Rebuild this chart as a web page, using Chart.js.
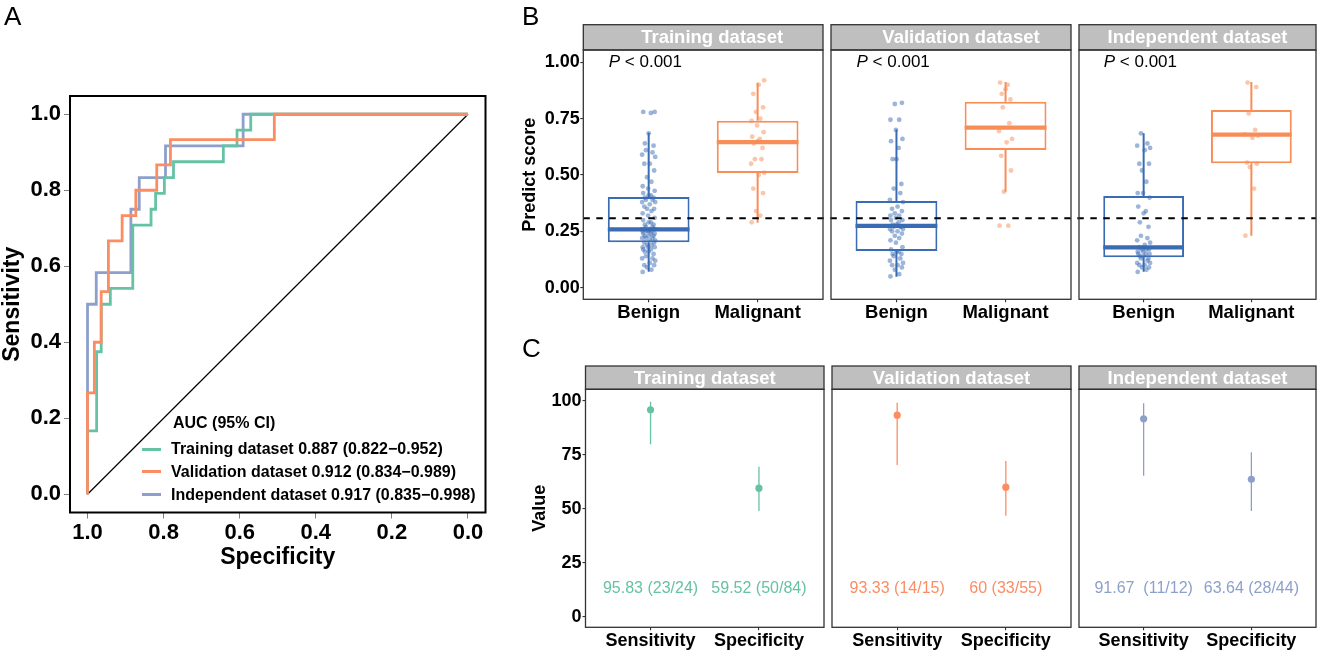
<!DOCTYPE html>
<html>
<head>
<meta charset="utf-8">
<title>ROC, predict score and sensitivity/specificity</title>
<script src="https://cdn.jsdelivr.net/npm/chart.js@4.4.1/dist/chart.umd.min.js"></script>
<style>
  html, body { margin:0; padding:0; background:#ffffff; }
  body { position:relative; width:1320px; height:654px; overflow:hidden; font-family:'Liberation Sans', Arial, sans-serif; }
  canvas { position:absolute; }
  .letter { position:absolute; font-size:26px; line-height:1; color:#000; }
  .leg { position:absolute; font-size:16px; font-weight:bold; line-height:1; white-space:nowrap; color:#000; }
  .sw { position:absolute; width:19px; height:3px; }
</style>
</head>
<body>
<canvas id="cA" width="500" height="590" style="left:0px;top:0px"></canvas>
<canvas id="cB1" width="307" height="330" style="left:520px;top:0px"></canvas>
<canvas id="cB2" width="248" height="330" style="left:827px;top:0px"></canvas>
<canvas id="cB3" width="245" height="330" style="left:1075px;top:0px"></canvas>
<canvas id="cC1" width="308" height="324" style="left:520px;top:330px"></canvas>
<canvas id="cC2" width="247" height="324" style="left:828px;top:330px"></canvas>
<canvas id="cC3" width="245" height="324" style="left:1075px;top:330px"></canvas>
<div class="letter" style="left:4px;top:3px">A</div>
<div class="letter" style="left:522px;top:3px">B</div>
<div class="letter" style="left:522px;top:335px">C</div>
<div id="legend"></div>
<script>
// ================= DATA =================
// ---- Panel A: ROC curves (specificity, sensitivity at each threshold) ----
const rocTickValues = [0, 0.2, 0.4, 0.6, 0.8, 1.0];
const rocTickLabels = ['0.0', '0.2', '0.4', '0.6', '0.8', '1.0'];
const rocSpecTrain = [1, 1, 0.976, 0.964, 0.940, 0.881, 0.833, 0.821, 0.798, 0.774, 0.643, 0.607, 0.571, 0];
const rocSensTrain = [0, 0.167, 0.375, 0.500, 0.542, 0.708, 0.750, 0.792, 0.833, 0.875, 0.917, 0.958, 1, 1];
const rocSpecVal = [1, 1, 0.982, 0.964, 0.945, 0.909, 0.873, 0.818, 0.782, 0.509, 0];
const rocSensVal = [0, 0.267, 0.400, 0.533, 0.667, 0.733, 0.800, 0.867, 0.933, 1, 1];
const rocSpecInd = [1, 1, 0.977, 0.886, 0.864, 0.795, 0.591, 0];
const rocSensInd = [0, 0.500, 0.583, 0.750, 0.833, 0.917, 1, 1];
const refSpec = [1, 0];
const refSens = [0, 1];
const rocLegendTitle = 'AUC (95% CI)';
const rocLegendLabels = [
  'Training dataset 0.887 (0.822\u22120.952)',
  'Validation dataset 0.912 (0.834\u22120.989)',
  'Independent dataset 0.917 (0.835\u22120.998)'
];

// ---- Panel B: predict score box plots ----
const facetNames = ['Training dataset', 'Validation dataset', 'Independent dataset'];
const boxGroups = ['Benign', 'Malignant'];
const scoreTickValues = [0, 0.25, 0.5, 0.75, 1];
const scoreTickLabels = ['0.00', '0.25', '0.50', '0.75', '1.00'];
const cutoffScore = 0.308;
const pValueText = ['P', ' < 0.001'];
// [lower whisker, Q1, median, Q3, upper whisker]
const boxTrainBenign = [0.071, 0.202, 0.259, 0.402, 0.687];
const boxTrainMalig  = [0.288, 0.509, 0.646, 0.741, 0.909];
const boxValBenign   = [0.049, 0.163, 0.274, 0.385, 0.702];
const boxValMalig    = [0.426, 0.611, 0.710, 0.825, 0.913];
const boxIndBenign   = [0.071, 0.135, 0.179, 0.407, 0.685];
const boxIndMalig    = [0.231, 0.552, 0.679, 0.788, 0.913];
const ptsTrainBenign = [0.07,0.08,0.09,0.10,0.10,0.11,0.12,0.13,0.13,0.14,0.15,0.16,0.16,0.17,0.17,0.18,0.18,0.18,0.19,0.19,0.20,
  0.20,0.21,0.21,0.22,0.22,0.22,0.23,0.23,0.23,0.24,0.24,0.24,0.25,0.25,0.25,0.25,0.26,0.26,0.26,0.26,0.26,
  0.27,0.27,0.28,0.28,0.29,0.29,0.30,0.31,0.32,0.33,0.34,0.35,0.35,0.36,0.37,0.38,0.38,0.39,0.39,0.40,0.40,
  0.41,0.41,0.42,0.43,0.44,0.45,0.47,0.49,0.52,0.55,0.55,0.58,0.59,0.60,0.61,0.63,0.64,0.685,0.775,0.78,0.78];
const ptsTrainMalig = [0.29,0.32,0.34,0.42,0.44,0.50,0.51,0.55,0.57,0.57,0.62,0.64,0.65,0.66,0.67,0.69,0.72,0.74,0.75,0.78,0.80,0.86,0.90,0.92];
const ptsValBenign = [0.05,0.06,0.08,0.09,0.10,0.10,0.11,0.12,0.13,0.14,0.15,0.15,0.16,0.16,
  0.17,0.18,0.20,0.21,0.22,0.23,0.24,0.25,0.25,0.26,0.26,0.27,0.27,0.27,
  0.28,0.28,0.29,0.30,0.30,0.31,0.32,0.32,0.33,0.34,0.35,0.36,0.38,
  0.39,0.42,0.44,0.46,0.57,0.57,0.62,0.65,0.66,0.70,0.745,0.745,0.815,0.82];
const ptsValMalig = [0.275,0.275,0.426,0.52,0.585,0.645,0.66,0.695,0.73,0.80,0.835,0.86,0.88,0.90,0.91];
const ptsIndBenign = [0.07,0.08,0.09,0.09,0.10,0.10,0.11,0.11,0.12,0.13,0.13,
  0.14,0.14,0.15,0.15,0.15,0.16,0.16,0.17,0.17,0.17,0.18,
  0.19,0.20,0.21,0.22,0.23,0.27,0.29,0.33,0.34,0.36,0.40,
  0.42,0.42,0.47,0.52,0.55,0.55,0.61,0.62,0.63,0.64,0.685];
const ptsIndMalig = [0.231,0.44,0.535,0.55,0.555,0.665,0.675,0.68,0.70,0.773,0.89,0.91];

// ---- Panel C: sensitivity / specificity with 95% CI ----
const metricNames = ['Sensitivity', 'Specificity'];
const valueTickValues = [0, 25, 50, 75, 100];
const valueTickLabels = ['0', '25', '50', '75', '100'];
const estTrain = [95.83, 59.52];
const ciLowTrain = [79.9, 49.0];
const ciHighTrain = [99.5, 69.4];
const txtTrain = ['95.83 (23/24)', '59.52 (50/84)'];
const estVal = [93.33, 60];
const ciLowVal = [70.2, 46.8];
const ciHighVal = [99.1, 72.1];
const txtVal = ['93.33 (14/15)', '60 (33/55)'];
const estInd = [91.67, 63.64];
const ciLowInd = [65.3, 49.0];
const ciHighInd = [98.8, 76.2];
const txtInd = ['91.67  (11/12)', '63.64 (28/44)'];

// ================= STYLE / LAYOUT =================
const FONT = "'Liberation Sans', Arial, Helvetica, sans-serif";
const COL_TRAIN = '#66C2A5', COL_VAL = '#FC8D62', COL_IND = '#8DA0CB';
const COL_BENIGN = '#3A6CB4', COL_MALIG = '#F98D58';
const PTS_BENIGN = 'rgba(58,108,180,0.5)', PTS_MALIG = 'rgba(249,141,88,0.5)';
const jitterOffsets = [-0.055, 0.025, -0.015, 0.05, -0.04, 0.01, 0.06, -0.06, 0.035, -0.025, 0.045, -0.035, 0.0, 0.02, -0.05, 0.055, -0.005];
const layB = [
  { id:'cB1', absLeft:520,  pad:{left:0,   top:50, right:3.5, bottom:0}, yW:63.3, stripDx:9 },
  { id:'cB2', absLeft:827,  pad:{left:3.7, top:50, right:3.5, bottom:0}, stripDx:10 },
  { id:'cB3', absLeft:1075, pad:{left:3.9, top:50, right:1,   bottom:0}, stripDx:0 }
];
const layC = [
  { id:'cC1', pad:{left:0, top:59.3, right:2.3, bottom:0}, yW:65.5 },
  { id:'cC2', pad:{left:4, top:59.3, right:2.5, bottom:0} },
  { id:'cC3', pad:{left:4, top:59.3, right:1,   bottom:0} }
];

// ================= HELPERS =================
const toXY = (xs, ys) => xs.map((x, i) => ({ x: x, y: ys[i] }));
const fixedTicks = (values) => (scale) => { scale.ticks = values.map(v => ({ value: v })); };
const boldFont = (size) => ({ family: FONT, size: size, weight: 'bold', lineHeight: 1.2 });

const decor = {
  id: 'decor',
  afterDatasetsDraw(chart, args, o) {
    const ctx = chart.ctx, ca = chart.chartArea, xs = chart.scales.x, ys = chart.scales.y;
    if (o.cutoff !== undefined && o.cutoff !== null) {
      const y = ys.getPixelForValue(o.cutoff);
      const x0 = o.cutFromArea ? ca.left : 0;
      const x1 = o.cutToArea ? ca.right : chart.width;
      ctx.save();
      ctx.strokeStyle = '#000'; ctx.lineWidth = 2; ctx.setLineDash([6.5, 6.5]);
      ctx.lineDashOffset = (((o.absLeft + x0 - 583.3) % 13) + 13) % 13;
      ctx.beginPath(); ctx.moveTo(x0, y); ctx.lineTo(x1, y); ctx.stroke();
      ctx.restore();
    }
    if (o.pText) {
      ctx.save();
      const fI = 'italic 17px ' + FONT, fR = '17px ' + FONT;
      ctx.font = fI; const w1 = ctx.measureText(o.pText[0]).width;
      ctx.font = fR; const w2 = ctx.measureText(o.pText[1]).width;
      const cx = xs.getPixelForValue(o.pX), cy = ys.getPixelForValue(o.pY);
      let x = cx - (w1 + w2) / 2;
      ctx.fillStyle = '#000'; ctx.textBaseline = 'middle'; ctx.textAlign = 'left';
      ctx.font = fI; ctx.fillText(o.pText[0], x, cy);
      ctx.font = fR; ctx.fillText(o.pText[1], x + w1, cy);
      ctx.restore();
    }
    if (o.labels) {
      ctx.save();
      ctx.font = '16px ' + FONT; ctx.fillStyle = o.labelColor;
      ctx.textAlign = 'center'; ctx.textBaseline = 'middle';
      o.labels.forEach((t, i) => ctx.fillText(t, xs.getPixelForValue(i + 1), ys.getPixelForValue(o.labelY)));
      ctx.restore();
    }
  },
  afterDraw(chart, args, o) {
    const ctx = chart.ctx, ca = chart.chartArea;
    ctx.save();
    if (o.strip) {
      ctx.fillStyle = '#BFBFBF';
      ctx.fillRect(ca.left, o.stripTop, ca.right - ca.left, ca.top - o.stripTop);
      ctx.strokeStyle = '#333'; ctx.lineWidth = 1.3;
      ctx.strokeRect(ca.left, o.stripTop, ca.right - ca.left, ca.top - o.stripTop);
      ctx.fillStyle = '#ffffff'; ctx.font = 'bold 18.5px ' + FONT;
      ctx.textAlign = 'center'; ctx.textBaseline = 'middle';
      ctx.fillText(o.strip, (ca.left + ca.right) / 2 + (o.stripDx || 0), (o.stripTop + ca.top) / 2 + 1);
    }
    ctx.strokeStyle = o.frame || '#333'; ctx.lineWidth = o.frameWidth || 1.3;
    ctx.strokeRect(ca.left, ca.top, ca.right - ca.left, ca.bottom - ca.top);
    ctx.restore();
  }
};

// ================= PANEL A =================
(function () {
  const line = (xs, ys, c, order) => ({ data: toXY(xs, ys), borderColor: c, borderWidth: 2.8, stepped: 'before', pointRadius: 0, fill: false, order: order });
  new Chart(document.getElementById('cA'), {
    type: 'line',
    data: { datasets: [
      line(rocSpecVal, rocSensVal, COL_VAL, 0),
      line(rocSpecTrain, rocSensTrain, COL_TRAIN, 1),
      line(rocSpecInd, rocSensInd, COL_IND, 2),
      { data: toXY(refSpec, refSens), borderColor: '#000', borderWidth: 1.2, pointRadius: 0, fill: false, order: 3 }
    ]},
    options: {
      responsive: false, animation: false, events: [],
      layout: { padding: { left: 0, top: 96, right: 14.5, bottom: 0 } },
      plugins: { legend: { display: false }, tooltip: { enabled: false }, decor: { frame: '#000', frameWidth: 2 } },
      scales: {
        x: {
          type: 'linear', reverse: true, min: -0.046, max: 1.046,
          afterBuildTicks: fixedTicks(rocTickValues),
          afterFit: (s) => { s.height = 77.5; },
          ticks: { callback: (v, i) => rocTickLabels[i], color: '#000', font: boldFont(22), padding: 1, maxRotation: 0, autoSkip: false },
          grid: { drawOnChartArea: false, drawTicks: true, tickLength: 6, color: '#7f7f7f', lineWidth: 1 },
          border: { display: false },
          title: { display: true, text: 'Specificity', color: '#000', font: { family: FONT, size: 23, weight: 'bold', lineHeight: 1 }, padding: { top: 0, bottom: 20.5 } }
        },
        y: {
          type: 'linear', min: -0.048, max: 1.048,
          afterBuildTicks: fixedTicks(rocTickValues),
          afterFit: (s) => { s.width = 70; },
          ticks: { callback: (v, i) => rocTickLabels[i], color: '#000', font: boldFont(22), padding: 3 },
          grid: { drawOnChartArea: false, drawTicks: true, tickLength: 6, color: '#7f7f7f', lineWidth: 1 },
          border: { display: false },
          title: { display: true, text: 'Sensitivity', color: '#000', font: { family: FONT, size: 23, weight: 'bold', lineHeight: 1 }, padding: { top: 1, bottom: 0 } }
        }
      }
    },
    plugins: [decor]
  });
  // legend (HTML text)
  const lg = document.getElementById('legend');
  const cols = [COL_TRAIN, COL_VAL, COL_IND];
  const tops = [441.2, 464, 487];
  let h = '<div class="leg" style="left:173px;top:414.7px">' + rocLegendTitle + '</div>';
  rocLegendLabels.forEach((t, i) => {
    h += '<div class="sw" style="left:142px;top:' + (tops[i] + 6.3) + 'px;background:' + cols[i] + '"></div>';
    h += '<div class="leg" style="left:171px;top:' + tops[i] + 'px">' + t + '</div>';
  });
  lg.innerHTML = h;
})();

// ================= PANEL B =================
const boxFacets = [
  { benign: boxTrainBenign, malig: boxTrainMalig, ptsB: ptsTrainBenign, ptsM: ptsTrainMalig },
  { benign: boxValBenign,   malig: boxValMalig,   ptsB: ptsValBenign,   ptsM: ptsValMalig },
  { benign: boxIndBenign,   malig: boxIndMalig,   ptsB: ptsIndBenign,   ptsM: ptsIndMalig }
];
layB.forEach((lay, k) => {
  const f = boxFacets[k];
  const boxes = [f.benign, f.malig];
  const cols = [COL_BENIGN, COL_MALIG];
  const ds = [{
    type: 'bar', data: boxes.map((b, i) => ({ x: i + 1, y: [b[1], b[3]] })),
    backgroundColor: '#ffffff', borderColor: cols, borderWidth: 2, borderSkipped: false,
    categoryPercentage: 1, barPercentage: 0.75, order: 5
  }];
  boxes.forEach((b, i) => {
    ds.push({ type: 'line', data: [{ x: i + 1, y: b[3] }, { x: i + 1, y: b[4] }, { x: i + 1, y: null }, { x: i + 1, y: b[1] }, { x: i + 1, y: b[0] }],
      borderColor: cols[i], borderWidth: 2, pointRadius: 0, spanGaps: false, fill: false, order: 4 });
    ds.push({ type: 'line', data: [{ x: i + 1 - 0.375, y: b[2] }, { x: i + 1 + 0.375, y: b[2] }],
      borderColor: cols[i], borderWidth: 4.2, borderCapStyle: 'butt', pointRadius: 0, fill: false, order: 3 });
  });
  [f.ptsB, f.ptsM].forEach((pts, i) => {
    ds.push({ type: 'scatter', data: pts.map((v, j) => ({ x: i + 1 + jitterOffsets[j % jitterOffsets.length], y: v })),
      backgroundColor: i === 0 ? PTS_BENIGN : PTS_MALIG, borderWidth: 0, pointRadius: 2.4, order: 0 });
  });
  new Chart(document.getElementById(lay.id), {
    type: 'bar',
    data: { datasets: ds },
    options: {
      responsive: false, animation: false, events: [],
      layout: { padding: lay.pad },
      plugins: {
        legend: { display: false }, tooltip: { enabled: false },
        decor: { strip: facetNames[k], stripTop: 24.7, stripDx: lay.stripDx, cutoff: cutoffScore, absLeft: lay.absLeft,
                 cutFromArea: k === 0, cutToArea: k === 2, pText: pValueText, pX: 0.97, pY: 1.0 }
      },
      scales: {
        x: {
          type: 'linear', min: 0.4, max: 2.6, offset: false,
          afterBuildTicks: fixedTicks([1, 2]),
          afterFit: (s) => { s.height = 30.7; },
          ticks: { callback: (v, i) => boxGroups[i], color: '#000', font: boldFont(18.5), padding: 0, maxRotation: 0, autoSkip: false },
          grid: { offset: false, drawOnChartArea: false, drawTicks: true, tickLength: 3, color: '#333', lineWidth: 1.1 },
          border: { display: false }
        },
        y: {
          type: 'linear', display: k === 0, min: -0.0514, max: 1.0545,
          afterBuildTicks: fixedTicks(scoreTickValues),
          afterFit: (s) => { s.width = lay.yW || 0; },
          ticks: { callback: (v, i) => scoreTickLabels[i], color: '#000', font: boldFont(18), padding: 0.5 },
          grid: { drawOnChartArea: false, drawTicks: true, tickLength: 3, color: '#333', lineWidth: 1.1 },
          border: { display: false },
          title: { display: true, text: 'Predict score', color: '#000', font: { family: FONT, size: 18, weight: 'bold', lineHeight: 1 }, padding: { top: 1, bottom: 0 } }
        }
      }
    },
    plugins: [decor]
  });
});

// ================= PANEL C =================
const metricFacets = [
  { est: estTrain, lo: ciLowTrain, hi: ciHighTrain, txt: txtTrain, col: COL_TRAIN },
  { est: estVal,   lo: ciLowVal,   hi: ciHighVal,   txt: txtVal,   col: COL_VAL },
  { est: estInd,   lo: ciLowInd,   hi: ciHighInd,   txt: txtInd,   col: COL_IND }
];
layC.forEach((lay, k) => {
  const f = metricFacets[k];
  const bars = [];
  f.est.forEach((v, i) => {
    if (i > 0) bars.push({ x: i + 0.5, y: null });
    bars.push({ x: i + 1, y: f.lo[i] }, { x: i + 1, y: f.hi[i] });
  });
  new Chart(document.getElementById(lay.id), {
    type: 'scatter',
    data: { datasets: [
      { type: 'scatter', data: f.est.map((v, i) => ({ x: i + 1, y: v })), backgroundColor: f.col, borderWidth: 0, pointRadius: 3.6, order: 0 },
      { type: 'line', data: bars, borderColor: f.col, borderWidth: 1.3, pointRadius: 0, spanGaps: false, fill: false, order: 1 }
    ]},
    options: {
      responsive: false, animation: false, events: [],
      layout: { padding: lay.pad },
      plugins: {
        legend: { display: false }, tooltip: { enabled: false },
        decor: { strip: facetNames[k], stripTop: 36, stripDx: 0, labels: f.txt, labelColor: f.col, labelY: 13 }
      },
      scales: {
        x: {
          type: 'linear', min: 0.4, max: 2.6,
          afterBuildTicks: fixedTicks([1, 2]),
          afterFit: (s) => { s.height = 26.7; },
          ticks: { callback: (v, i) => metricNames[i], color: '#000', font: boldFont(18), padding: 0, maxRotation: 0, autoSkip: false },
          grid: { drawOnChartArea: false, drawTicks: true, tickLength: 3, color: '#333', lineWidth: 1.1 },
          border: { display: false }
        },
        y: {
          type: 'linear', display: k === 0, min: -4.9, max: 105.3,
          afterBuildTicks: fixedTicks(valueTickValues),
          afterFit: (s) => { s.width = lay.yW || 0; },
          ticks: { callback: (v, i) => valueTickLabels[i], color: '#000', font: boldFont(18), padding: 1 },
          grid: { drawOnChartArea: false, drawTicks: true, tickLength: 3, color: '#333', lineWidth: 1.1 },
          border: { display: false },
          title: { display: true, text: 'Value', color: '#000', font: { family: FONT, size: 18, weight: 'bold', lineHeight: 1 }, padding: { top: 11, bottom: 0 } }
        }
      }
    },
    plugins: [decor]
  });
});
</script>
</body>
</html>
